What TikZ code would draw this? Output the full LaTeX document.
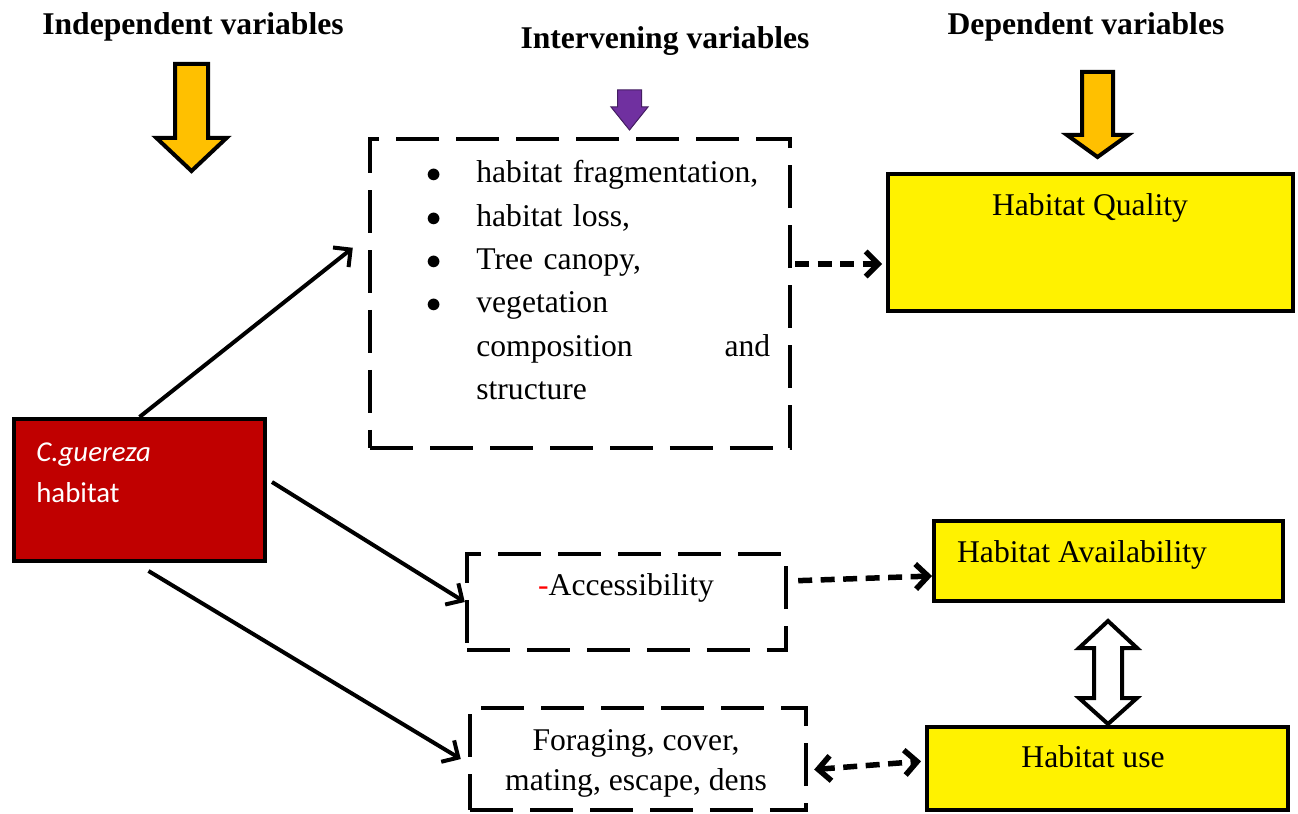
\documentclass[tikz,border=0pt]{standalone}
\usepackage{fontspec}
\setmainfont{Liberation Serif}
\newfontfamily\calibri{Carlito}
\usepackage{enumitem}
\usetikzlibrary{arrows.meta}

\definecolor{guereza}{HTML}{C00000}
\definecolor{amber}{HTML}{FFC000}
\definecolor{ivpurple}{HTML}{7030A0}

\begin{document}
\begin{tikzpicture}[x=0.02cm, y=-0.02cm,
    font=\fontsize{18}{24.7}\selectfont,
    >={Straight Barb[length=0.25cm, width=0.5cm]},
    head/.style={font=\fontsize{18}{22}\selectfont\bfseries},
    depbox/.style={draw, line width=0.08cm, fill=yellow, inner sep=0},
    ivbox/.style={draw, line width=0.09cm, dash pattern=on 0.86cm off 0.34cm, inner sep=0},
    link/.style={->, line width=0.08cm},
    dlink/.style={line width=0.11cm, dash pattern=on 0.28cm off 0.17cm},
    blockarrow/.style={line width=0.08cm}]
    \useasboundingbox (0, 0) rectangle (1298, 814);

    % headings
    \node[head] at (193, 27)(indep){Independent variables};
    \node[head] at (665, 41)(interv){Intervening variables};
    \node[head] at (1086, 27)(dep){Dependent variables};

    \draw[blockarrow, fill=amber] (175, 64) -- (208, 64) -- (208, 138) -- (226.5, 138)
        -- (191.5, 171) -- (156.5, 138) -- (175, 138) -- cycle;
    \draw[line width=0.02cm, draw=ivpurple!60!black, fill=ivpurple] (617.5, 90) -- (641.5, 90)
        -- (641.5, 107) -- (648, 107) -- (629.5, 130) -- (611, 107) -- (617.5, 107) -- cycle;
    \draw[blockarrow, fill=amber] (1082, 72) -- (1113, 72) -- (1113, 135) -- (1128, 135)
        -- (1097.5, 157) -- (1067, 135) -- (1082, 135) -- cycle;

    % boxes
    \node[draw, line width=0.08cm, fill=guereza, minimum width=5.02cm, minimum height=2.84cm,
        inner sep=0] at (139.5, 490)(red){};
    \node[anchor=north west, align=left, text=white, inner sep=0,
        font=\calibri\fontsize{16.4}{23.8}\selectfont] at (36, 442)(redtext){\textit{C.guereza}\\habitat};

    \node[ivbox, minimum width=8.4cm, minimum height=6.18cm] at (580, 293.5)(iv){};
    \node[anchor=north west, text width=7cm, inner sep=0] at (420, 139)(ivlist){%
        \begin{itemize}[nosep, leftmargin=1.12cm, labelsep=0.7cm, label=$\bullet$]
        \item habitat fragmentation,
        \item habitat loss,
        \item Tree canopy,
        \item vegetation\\ composition\hfill and\\ structure
        \end{itemize}};

    \node[ivbox, minimum width=6.38cm, minimum height=1.92cm] at (626.5, 602)(acc){};
    \node at (626, 588)(acctext){{\color{red}-}Accessibility};

    \node[ivbox, minimum width=6.72cm, minimum height=2.04cm] at (638, 759)(forage){};
    \node[align=center, font=\fontsize{18}{22.7}\selectfont] at (636, 763)(foragetext)
        {Foraging, cover,\\mating, escape, dens};

    \node[depbox, minimum width=8.1cm, minimum height=2.74cm] at (1090.5, 242.5)(hq){};
    \node at (1090, 208)(hqtext){Habitat Quality};

    \node[depbox, minimum width=6.98cm, minimum height=1.6cm] at (1108.5, 561)(ha){};
    \node at (1082, 555)(hatext){Habitat Availability};

    \node[depbox, minimum width=7.22cm, minimum height=1.66cm] at (1107.5, 768.5)(hu){};
    \node at (1093, 757)(hutext){Habitat use};

    % links
    \draw[link] (red.north) -- ([shift={(-15, 111)}]iv.north west);
    \draw[link] ([shift={(5, -8)}]red.east) -- (acc.west);
    \draw[link] ([shift={(9, 8)}]red.south) -- ([shift={(-7, 0)}]forage.west);

    \draw[dlink, ->, shorten <=0.06cm, shorten >=0.08cm] (iv.east |- 0,264) -- (hq.west |- 0,264);
    \draw[dlink, ->, shorten <=0.2cm] (acc.east |- 0,581) -- (ha.west |- 0,576);
    \draw[dlink, <->, shorten <=0.12cm, shorten >=0.08cm] (forage.east |- 0,770) -- (hu.west |- 0,761);

    \draw[blockarrow, fill=white] (1108, 621) -- (1137, 648) -- (1122, 648) -- (1122, 698)
        -- (1137, 698) -- (1108, 724) -- (1079, 698) -- (1094, 698) -- (1094, 648)
        -- (1079, 648) -- cycle;
\end{tikzpicture}
\end{document}
